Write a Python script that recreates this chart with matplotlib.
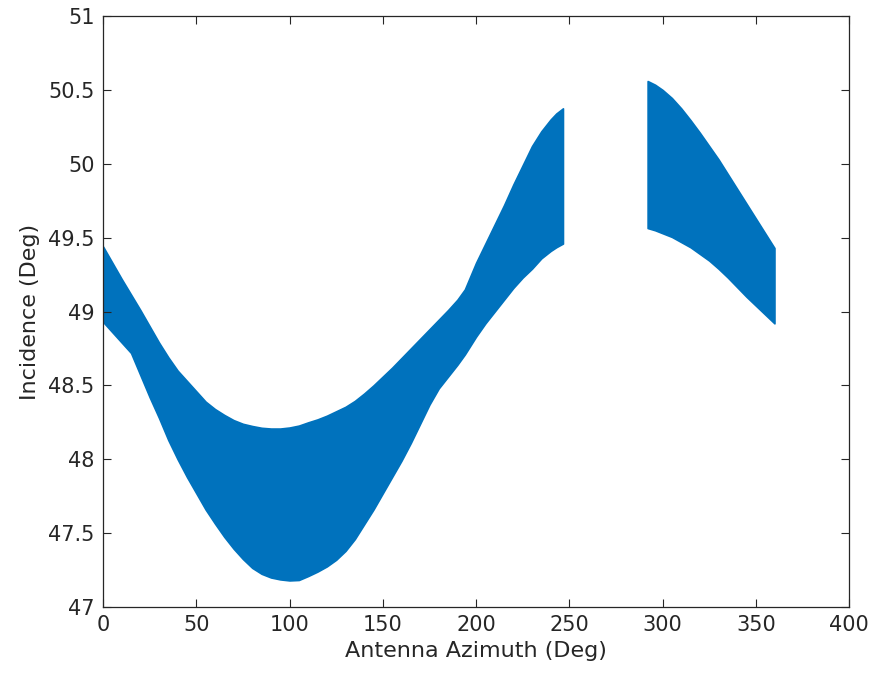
import matplotlib

matplotlib.use("Agg")
import matplotlib.pyplot as plt

# incidence envelope (min/max over the swath) vs antenna azimuth, two visible arcs
az_a = [0, 5, 10, 15, 20, 25, 30, 35, 40, 45, 50, 55, 60, 65, 70, 75, 80, 85, 90,
        95, 100, 105, 110, 115, 120, 125, 130, 135, 140, 145, 150, 155, 160, 165,
        170, 175, 180, 185, 190, 194, 200, 205, 210, 215, 220, 225, 230, 235, 240,
        243, 246.6]
upper_a = [49.44, 49.33, 49.22, 49.115, 49.01, 48.90, 48.79, 48.69, 48.60, 48.53,
           48.46, 48.39, 48.34, 48.30, 48.265, 48.24, 48.225, 48.213, 48.208,
           48.208, 48.215, 48.228, 48.25, 48.27, 48.295, 48.325, 48.355, 48.395,
           48.445, 48.50, 48.56, 48.62, 48.685, 48.75, 48.815, 48.88, 48.945,
           49.01, 49.08, 49.15, 49.33, 49.46, 49.59, 49.72, 49.86, 49.99, 50.12,
           50.22, 50.30, 50.34, 50.375]
lower_a = [48.93, 48.86, 48.79, 48.72, 48.57, 48.42, 48.28, 48.13, 48.00, 47.88,
           47.77, 47.66, 47.565, 47.475, 47.395, 47.325, 47.265, 47.225, 47.20,
           47.187, 47.18, 47.183, 47.21, 47.24, 47.275, 47.32, 47.38, 47.46, 47.56,
           47.66, 47.77, 47.88, 47.99, 48.11, 48.24, 48.37, 48.48, 48.56, 48.64,
           48.71, 48.83, 48.92, 49.00, 49.08, 49.16, 49.23, 49.29, 49.36, 49.41,
           49.435, 49.46]

az_b = [292, 296, 300, 305, 310, 315, 320, 325, 330, 335, 340, 345, 350, 355, 360]
upper_b = [50.56, 50.535, 50.50, 50.445, 50.375, 50.295, 50.21, 50.12, 50.03,
           49.93, 49.83, 49.73, 49.63, 49.53, 49.43]
lower_b = [49.565, 49.55, 49.53, 49.505, 49.47, 49.435, 49.39, 49.345, 49.29,
           49.23, 49.165, 49.10, 49.04, 48.98, 48.92]

xticks = [0, 50, 100, 150, 200, 250, 300, 350, 400]
yticks = [47, 47.5, 48, 48.5, 49, 49.5, 50, 50.5, 51]

BLUE = "#0072BD"
GREY = "#262626"

plt.rcParams["font.family"] = ["DejaVu Sans"]

fig = plt.figure(figsize=(8.71, 6.79), dpi=100)
ax = fig.add_axes([0.1183, 0.106, 0.8565, 0.8704])

for az, up, lo in [(az_a, upper_a, lower_a), (az_b, upper_b, lower_b)]:
    ax.fill_between(az, lo, up, color=BLUE, linewidth=1.2, edgecolor=BLUE)

ax.set_xlim(0, 400)
ax.set_ylim(47, 51)
ax.set_xticks(xticks)
ax.set_yticks(yticks)
ax.set_yticklabels([f"{v:g}" for v in yticks])
ax.tick_params(direction="in", top=True, right=True, length=6, width=0.8,
               colors=GREY, labelsize=15, pad=6)
for s in ax.spines.values():
    s.set_color(GREY)
    s.set_linewidth(0.9)

ax.set_xlabel("Antenna Azimuth (Deg)", fontsize=16, color=GREY, labelpad=4)
ax.set_ylabel("Incidence (Deg)", fontsize=16, color=GREY, labelpad=6)

fig.savefig("out.png", dpi=100)
